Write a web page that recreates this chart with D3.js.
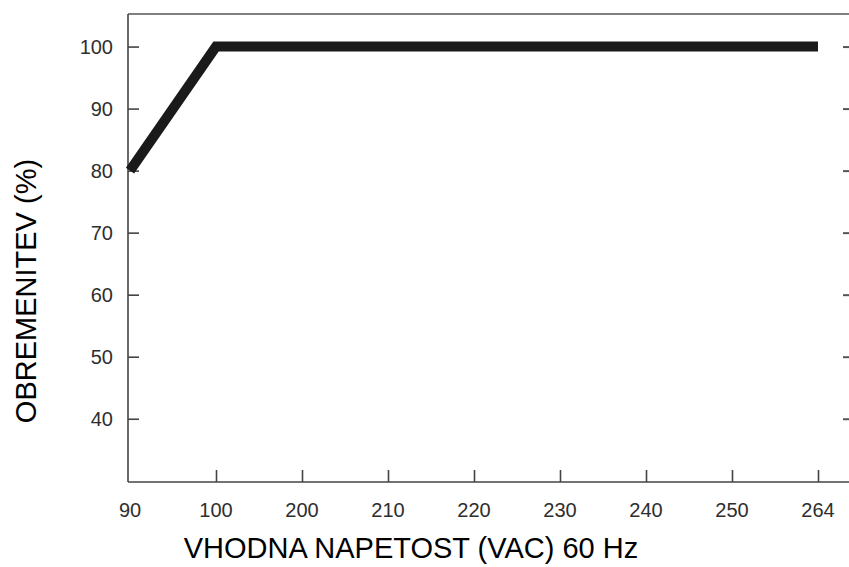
<!DOCTYPE html>
<html>
<head>
<meta charset="utf-8">
<script src="https://cdn.jsdelivr.net/npm/d3@7"></script>
<style>
  html, body { margin: 0; padding: 0; background: #fff; }
  svg { display: block; }
</style>
</head>
<body>
<svg id="chart" width="849" height="567"></svg>
<script>
// ---- data ----
const xCategories = ["90", "100", "200", "210", "220", "230", "240", "250", "264"];
const seriesX = ["90", "100", "264"];
const seriesY = [80, 100, 100];
const yTicks = [40, 50, 60, 70, 80, 90, 100];
const xTitle = "VHODNA NAPETOST (VAC) 60 Hz";
const yTitle = "OBREMENITEV (%)";

// ---- layout ----
const W = 849, H = 567;
const plot = { left: 128, right: 849, top: 14, bottom: 482 };
const svg = d3.select("#chart");

const x = d3.scalePoint().domain(xCategories).range([130, 818]);
const y = d3.scaleLinear().domain([29.8, 105.25]).range([plot.bottom, plot.top]);

const axisColor = "#444";
const labelFont = "Liberation Sans, Arial, sans-serif";
const g = svg.append("g");

// frame: top line, left axis, bottom axis
g.append("line").attr("x1", plot.left).attr("x2", plot.right)
  .attr("y1", plot.top).attr("y2", plot.top)
  .attr("stroke", "#555").attr("stroke-width", 1.6);
g.append("line").attr("x1", plot.left).attr("x2", plot.left)
  .attr("y1", plot.top).attr("y2", plot.bottom)
  .attr("stroke", axisColor).attr("stroke-width", 1.6);
g.append("line").attr("x1", plot.left).attr("x2", plot.right)
  .attr("y1", plot.bottom).attr("y2", plot.bottom)
  .attr("stroke", axisColor).attr("stroke-width", 1.6);

// left axis (ticks pointing inward)
const yAxis = d3.axisRight(y).tickValues(yTicks).tickSize(11).tickFormat("");
const yg = svg.append("g").attr("transform", `translate(${plot.left},0)`).call(yAxis);
yg.select(".domain").remove();
yg.selectAll(".tick line").attr("stroke", axisColor).attr("stroke-width", 1.6);

// left tick labels
svg.append("g").selectAll("text").data(yTicks).join("text")
  .attr("x", 113).attr("y", d => y(d)).attr("dy", "0.36em")
  .attr("text-anchor", "end")
  .attr("font-family", labelFont)
  .attr("font-size", 20).attr("fill", "#2e2e2e")
  .text(d => d);

// right ticks (short stubs at the image edge)
const yAxisR = d3.axisLeft(y).tickValues(yTicks).tickSize(6).tickFormat("");
const yrg = svg.append("g").attr("transform", `translate(${plot.right},0)`).call(yAxisR);
yrg.select(".domain").remove();
yrg.selectAll(".tick line").attr("stroke", "#555").attr("stroke-width", 2);

// bottom axis (ticks pointing up)
const xAxis = d3.axisTop(x).tickSize(12).tickFormat("");
const xg = svg.append("g").attr("transform", `translate(0,${plot.bottom})`).call(xAxis);
xg.select(".domain").remove();
xg.selectAll(".tick").filter(d => d === "90").remove();
xg.selectAll(".tick line").attr("stroke", axisColor).attr("stroke-width", 1.6);

svg.append("g").selectAll("text").data(xCategories).join("text")
  .attr("x", d => x(d)).attr("y", 517)
  .attr("text-anchor", "middle")
  .attr("font-family", labelFont)
  .attr("font-size", 20).attr("fill", "#2e2e2e")
  .text(d => d);

// series line
const pts = seriesX.map((c, i) => [x(c), y(seriesY[i])]);
svg.append("path")
  .attr("d", d3.line()(pts))
  .attr("fill", "none")
  .attr("stroke", "#1a1a1a")
  .attr("stroke-width", 10)
  .attr("stroke-linejoin", "miter")
  .attr("stroke-linecap", "butt");

// axis titles
svg.append("text")
  .attr("x", 411).attr("y", 558)
  .attr("text-anchor", "middle")
  .attr("font-family", labelFont)
  .attr("font-size", 29).attr("fill", "#000")
  .text(xTitle);

svg.append("text")
  .attr("transform", "translate(36,291) rotate(-90)")
  .attr("text-anchor", "middle")
  .attr("font-family", labelFont)
  .attr("font-size", 29).attr("fill", "#000")
  .text(yTitle);
</script>
</body>
</html>
